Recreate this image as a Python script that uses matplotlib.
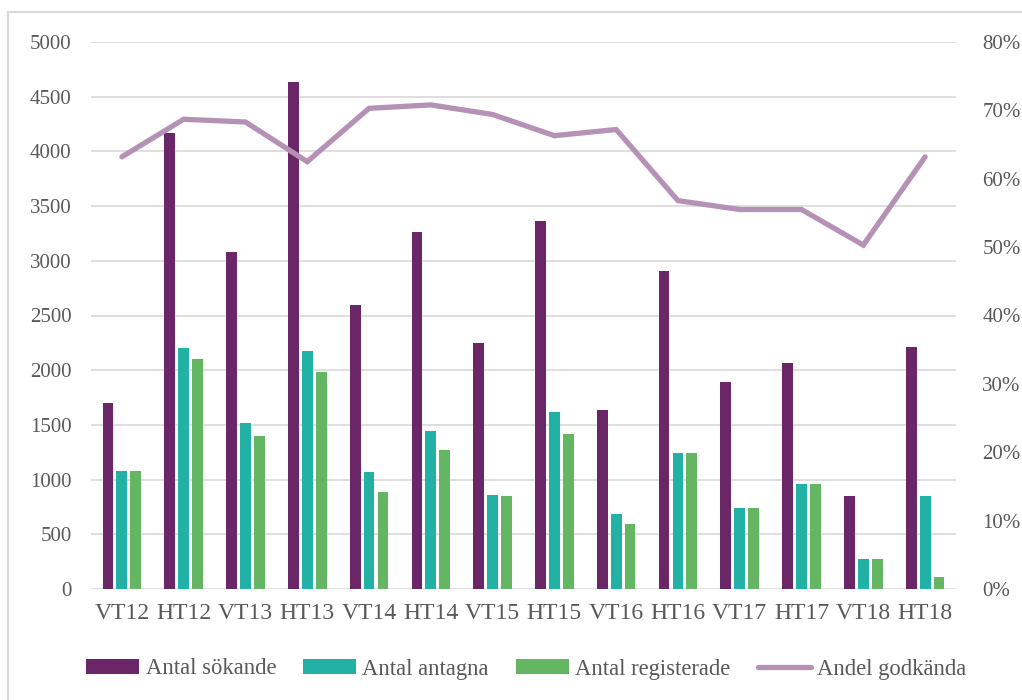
import matplotlib
matplotlib.use("Agg")
import matplotlib.pyplot as plt
import numpy as np
from matplotlib.patches import Rectangle
from matplotlib.ticker import FuncFormatter

plt.rcParams["font.family"] = ["Liberation Serif", "DejaVu Serif"]

terms = ["VT12", "HT12", "VT13", "HT13", "VT14", "HT14", "VT15",
         "HT15", "VT16", "HT16", "VT17", "HT17", "VT18", "HT18"]
sokande = [1700, 4170, 3080, 4630, 2600, 3260, 2250,
           3360, 1640, 2910, 1890, 2070, 850, 2210]
antagna = [1080, 2200, 1520, 2180, 1070, 1440, 860,
           1620, 690, 1240, 740, 960, 270, 850]
registrerade = [1080, 2100, 1400, 1980, 890, 1270, 850,
                1420, 590, 1240, 740, 960, 270, 110]
andel_godkanda = [63.2, 68.7, 68.3, 62.5, 70.3, 70.8, 69.4,
                  66.3, 67.2, 56.8, 55.5, 55.5, 50.3, 63.2]

c_sok = "#6B2667"
c_ant = "#22B2A5"
c_reg = "#65B662"
c_line = "#B591B5"
c_text = "#595959"
c_grid = "#D9D9D9"

fig = plt.figure(figsize=(10.22, 7.0), dpi=100)
ax = fig.add_axes([91 / 1022, 1 - 589 / 700, (956 - 91) / 1022, (589 - 42) / 700])
ax2 = ax.twinx()

x = np.arange(len(terms))
w = 0.175
off = 0.225
b1 = ax.bar(x - off, sokande, w, color=c_sok, label="Antal sökande", zorder=3)
b2 = ax.bar(x, antagna, w, color=c_ant, label="Antal antagna", zorder=3)
b3 = ax.bar(x + off, registrerade, w, color=c_reg, label="Antal registerade", zorder=3)

ln, = ax2.plot(x, andel_godkanda, color=c_line, lw=3.8, solid_capstyle="round",
               solid_joinstyle="miter", label="Andel godkända", zorder=4)

ax.set_xlim(-0.5, len(terms) - 0.5)
ax.set_ylim(0, 5000)
ax.set_yticks(range(0, 5001, 500))
ax2.set_ylim(0, 80)
ax2.set_yticks(range(0, 81, 10))
ax2.yaxis.set_major_formatter(FuncFormatter(lambda v, p: f"{int(v)}%"))

ax.set_xticks(x)
ax.set_xticklabels(terms)
ax.grid(axis="y", color=c_grid, lw=1.2, zorder=0)
ax.set_axisbelow(True)
for a in (ax, ax2):
    for s in a.spines.values():
        s.set_visible(False)
ax.tick_params(axis="x", length=0, pad=10, labelsize=17, labelcolor=c_text)
ax.tick_params(axis="y", length=0, pad=14, labelsize=15, labelcolor=c_text)
ax2.tick_params(axis="y", length=0, pad=19, labelsize=15, labelcolor=c_text)

fig.legend(handles=[b1, b2, b3, ln], loc="center", bbox_to_anchor=(0.515, 1 - 669 / 700),
           ncol=4, frameon=False, fontsize=16.3, labelcolor=c_text,
           handlelength=2.35, handleheight=0.6, handletextpad=0.27,
           columnspacing=1.2)

fig.patches.append(Rectangle((8 / 1022, -0.05), 1.1, 1.05 - 12 / 700,
                             transform=fig.transFigure, fill=False,
                             edgecolor=c_grid, lw=1.5))

fig.savefig("out.png", dpi=100)
